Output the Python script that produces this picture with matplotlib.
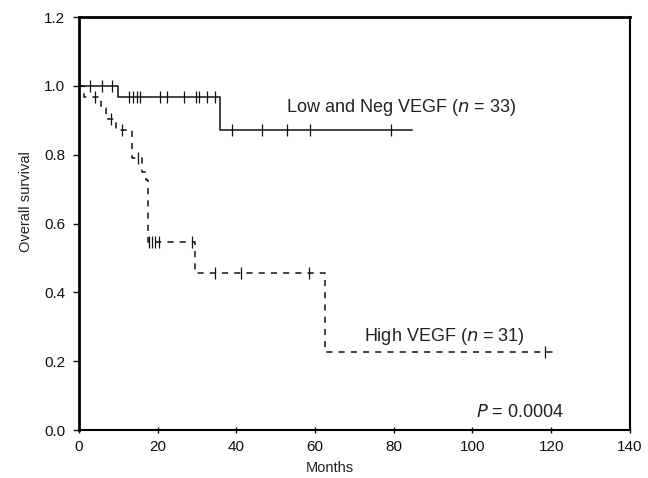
import numpy as np
import matplotlib
matplotlib.use('Agg')
from matplotlib import pyplot as plt

plt.rcParams['font.family'] = ['Liberation Sans', 'DejaVu Sans']

# Low and Neg VEGF (solid) - step times (months) and survival
low_times = [0, 10.0, 35.9]
low_surv = [1.0, 0.969, 0.872]
low_end = 84.5
low_cens = [2.7, 5.8, 8.4, 12.7, 13.7, 14.8, 15.5, 20.5, 22.3, 26.7, 29.7, 30.5,
            32.6, 34.6, 38.8, 46.6, 52.8, 58.8, 79.3]

# High VEGF (dashed)
high_times = [0, 1.3, 5.6, 6.9, 9.4, 13.5, 16.0, 17.0, 17.4, 29.5, 62.6]
high_surv = [1.0, 0.968, 0.935, 0.903, 0.871, 0.790, 0.750, 0.725, 0.545, 0.455, 0.226]
high_end = 120.5
high_cens = [4.0, 8.0, 11.0, 14.9, 17.8, 18.6, 19.4, 20.3, 28.8, 34.5, 41.2, 58.5, 118.5]


def step_xy(times, surv, end):
    x = list(times) + [end]
    y = list(surv) + [surv[-1]]
    return x, y


def level_at(times, surv, t):
    idx = np.searchsorted(times, t, side='right') - 1
    return np.array(surv)[idx]


fig = plt.figure(figsize=(6.48, 4.78), dpi=100)
ax = fig.add_axes([0.122, 0.1004, 0.850, 0.864])

x, y = step_xy(low_times, low_surv, low_end)
ax.step(x, y, where='post', color='#111111', linewidth=1.1)
ax.plot(low_cens, level_at(low_times, low_surv, low_cens), linestyle='none',
        marker='|', markersize=9, markeredgewidth=0.9, color='#111111')

x, y = step_xy(high_times, high_surv, high_end)
ax.step(x, y, where='post', color='#111111', linewidth=1.1, linestyle=(0, (4, 4)))
ax.plot(high_cens, level_at(high_times, high_surv, high_cens), linestyle='none',
        marker='|', markersize=9, markeredgewidth=0.9, color='#111111')

ax.text(52.7, 0.924, 'Low and Neg VEGF ($\\it{n}$ = 33)', fontsize=13, color='#222222',
        ha='left', va='baseline')
ax.text(72.5, 0.259, 'High VEGF ($\\it{n}$ = 31)', fontsize=13, color='#222222',
        ha='left', va='baseline')
ax.text(101, 0.039, '$\\it{P}$ = 0.0004', fontsize=13, color='#222222',
        ha='left', va='baseline')

ax.set_xlim(0, 140)
ax.set_ylim(0, 1.2)
ax.set_xticks(np.arange(0, 141, 20))
ax.set_yticks(np.arange(0, 1.21, 0.2))
ax.set_yticklabels([f'{v:.1f}' for v in np.arange(0, 1.21, 0.2)])
ax.tick_params(axis='both', labelsize=11, colors='#111111', direction='out', length=4, width=1)
ax.tick_params(axis='y', pad=6)
ax.tick_params(axis='x', direction='inout', length=5, pad=5)

ax.set_xlabel('Months', fontsize=10.5, color='#222222')
ax.set_ylabel('Overall survival', fontsize=10.5, color='#222222')
ax.xaxis.set_label_coords(0.455, -0.075)
ax.yaxis.set_label_coords(-0.084, 0.554)

ax.spines['left'].set_linewidth(2)
ax.spines['top'].set_linewidth(2)
ax.spines['right'].set_linewidth(1.5)
ax.spines['bottom'].set_linewidth(1.5)

plt.savefig('out.png', dpi=100)
